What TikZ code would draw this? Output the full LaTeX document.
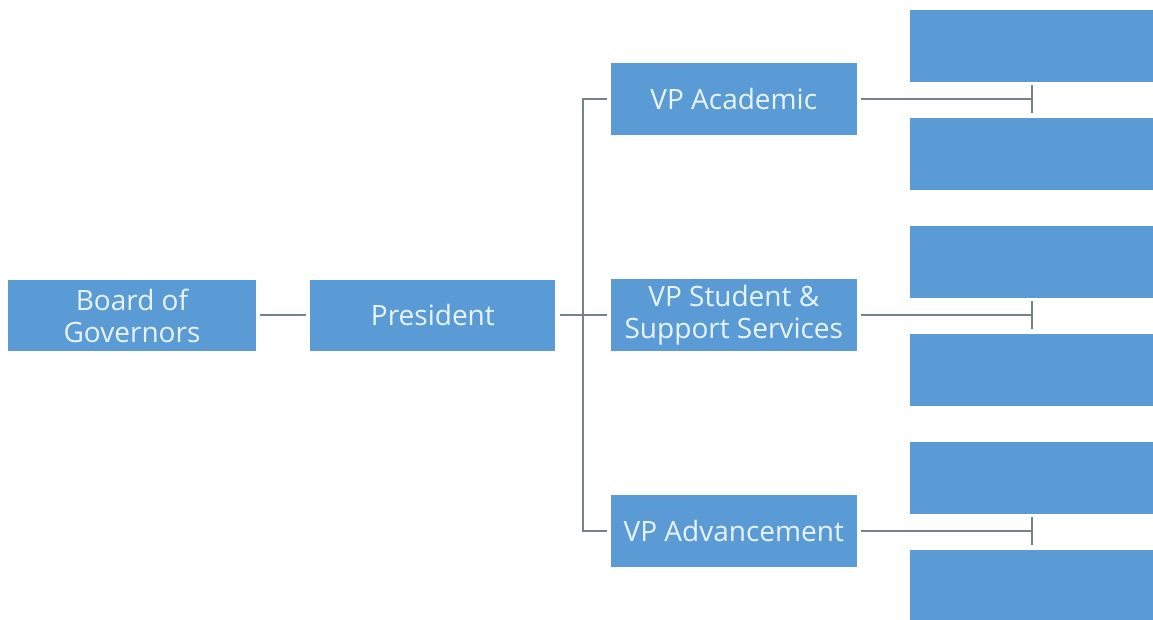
\documentclass[tikz,border=0pt]{standalone}
\usepackage{fontspec}
\setmainfont{Open Sans}
\usetikzlibrary{positioning}
\usetikzlibrary{arrows.meta}

\definecolor{boxblue}{RGB}{91,155,213}
\definecolor{boxtext}{RGB}{232,244,251}
\definecolor{linkgray}{RGB}{118,130,138}

\tikzset{
  unit/.style={fill=boxblue, text=boxtext, align=center, inner sep=0pt,
    minimum width=246pt, minimum height=72pt, font=\fontsize{28}{32}\selectfont},
  blank/.style={fill=boxblue, inner sep=0pt, minimum width=246pt, minimum height=72pt},
  link/.style={draw=linkgray, line width=2pt},
  tee/.style={link, shorten <=4pt, -{Bar[width=28pt]}},
}

\begin{document}
\begin{tikzpicture}[x=1pt,y=1pt]
  \useasboundingbox (0,0) rectangle (1153,620);
  \clip (0,0) rectangle (1153,620);

  \node[unit, minimum width=248pt, minimum height=71pt] (board) at (132,304.5) {Board of\\Governors};
  \node[unit, minimum width=245pt, minimum height=71pt, right=54pt of board] (pres) {President};
  \node[unit, right=55pt of pres] (vpstud) {VP Student \&\\Support Services};
  \node[unit, above=144pt of vpstud] (vpacad) {VP Academic};
  \node[unit, below=143pt of vpstud] (vpadv) {VP Advancement};
  \coordinate[right=27.5pt of pres] (hub);

  % right column
  \node[blank] (r1) at (1033,573.5) {};
  \node[blank, below=35.6pt of r1] (r2) {};
  \node[blank, below=35.6pt of r2] (r3) {};
  \node[blank, below=35.6pt of r3] (r4) {};
  \node[blank, below=35.6pt of r4] (r5) {};
  \node[blank, below=35.6pt of r5] (r6) {};
  \coordinate (gapA) at (vpacad -| r1);
  \coordinate (gapB) at (vpstud -| r3);
  \coordinate (gapC) at (vpadv -| r5);

  \draw[link, shorten <=4pt, shorten >=4pt] (board) -- (pres);
  \draw[link, shorten <=4pt] (pres) -- (hub);
  \draw[link, shorten >=4pt] (hub) -- (vpstud);
  \draw[link, shorten <=4pt, shorten >=4pt] (vpacad) -| (hub) |- (vpadv);

  \draw[tee] (vpacad) -- (gapA);
  \draw[tee] (vpstud) -- (gapB);
  \draw[tee] (vpadv) -- (gapC);
\end{tikzpicture}
\end{document}
